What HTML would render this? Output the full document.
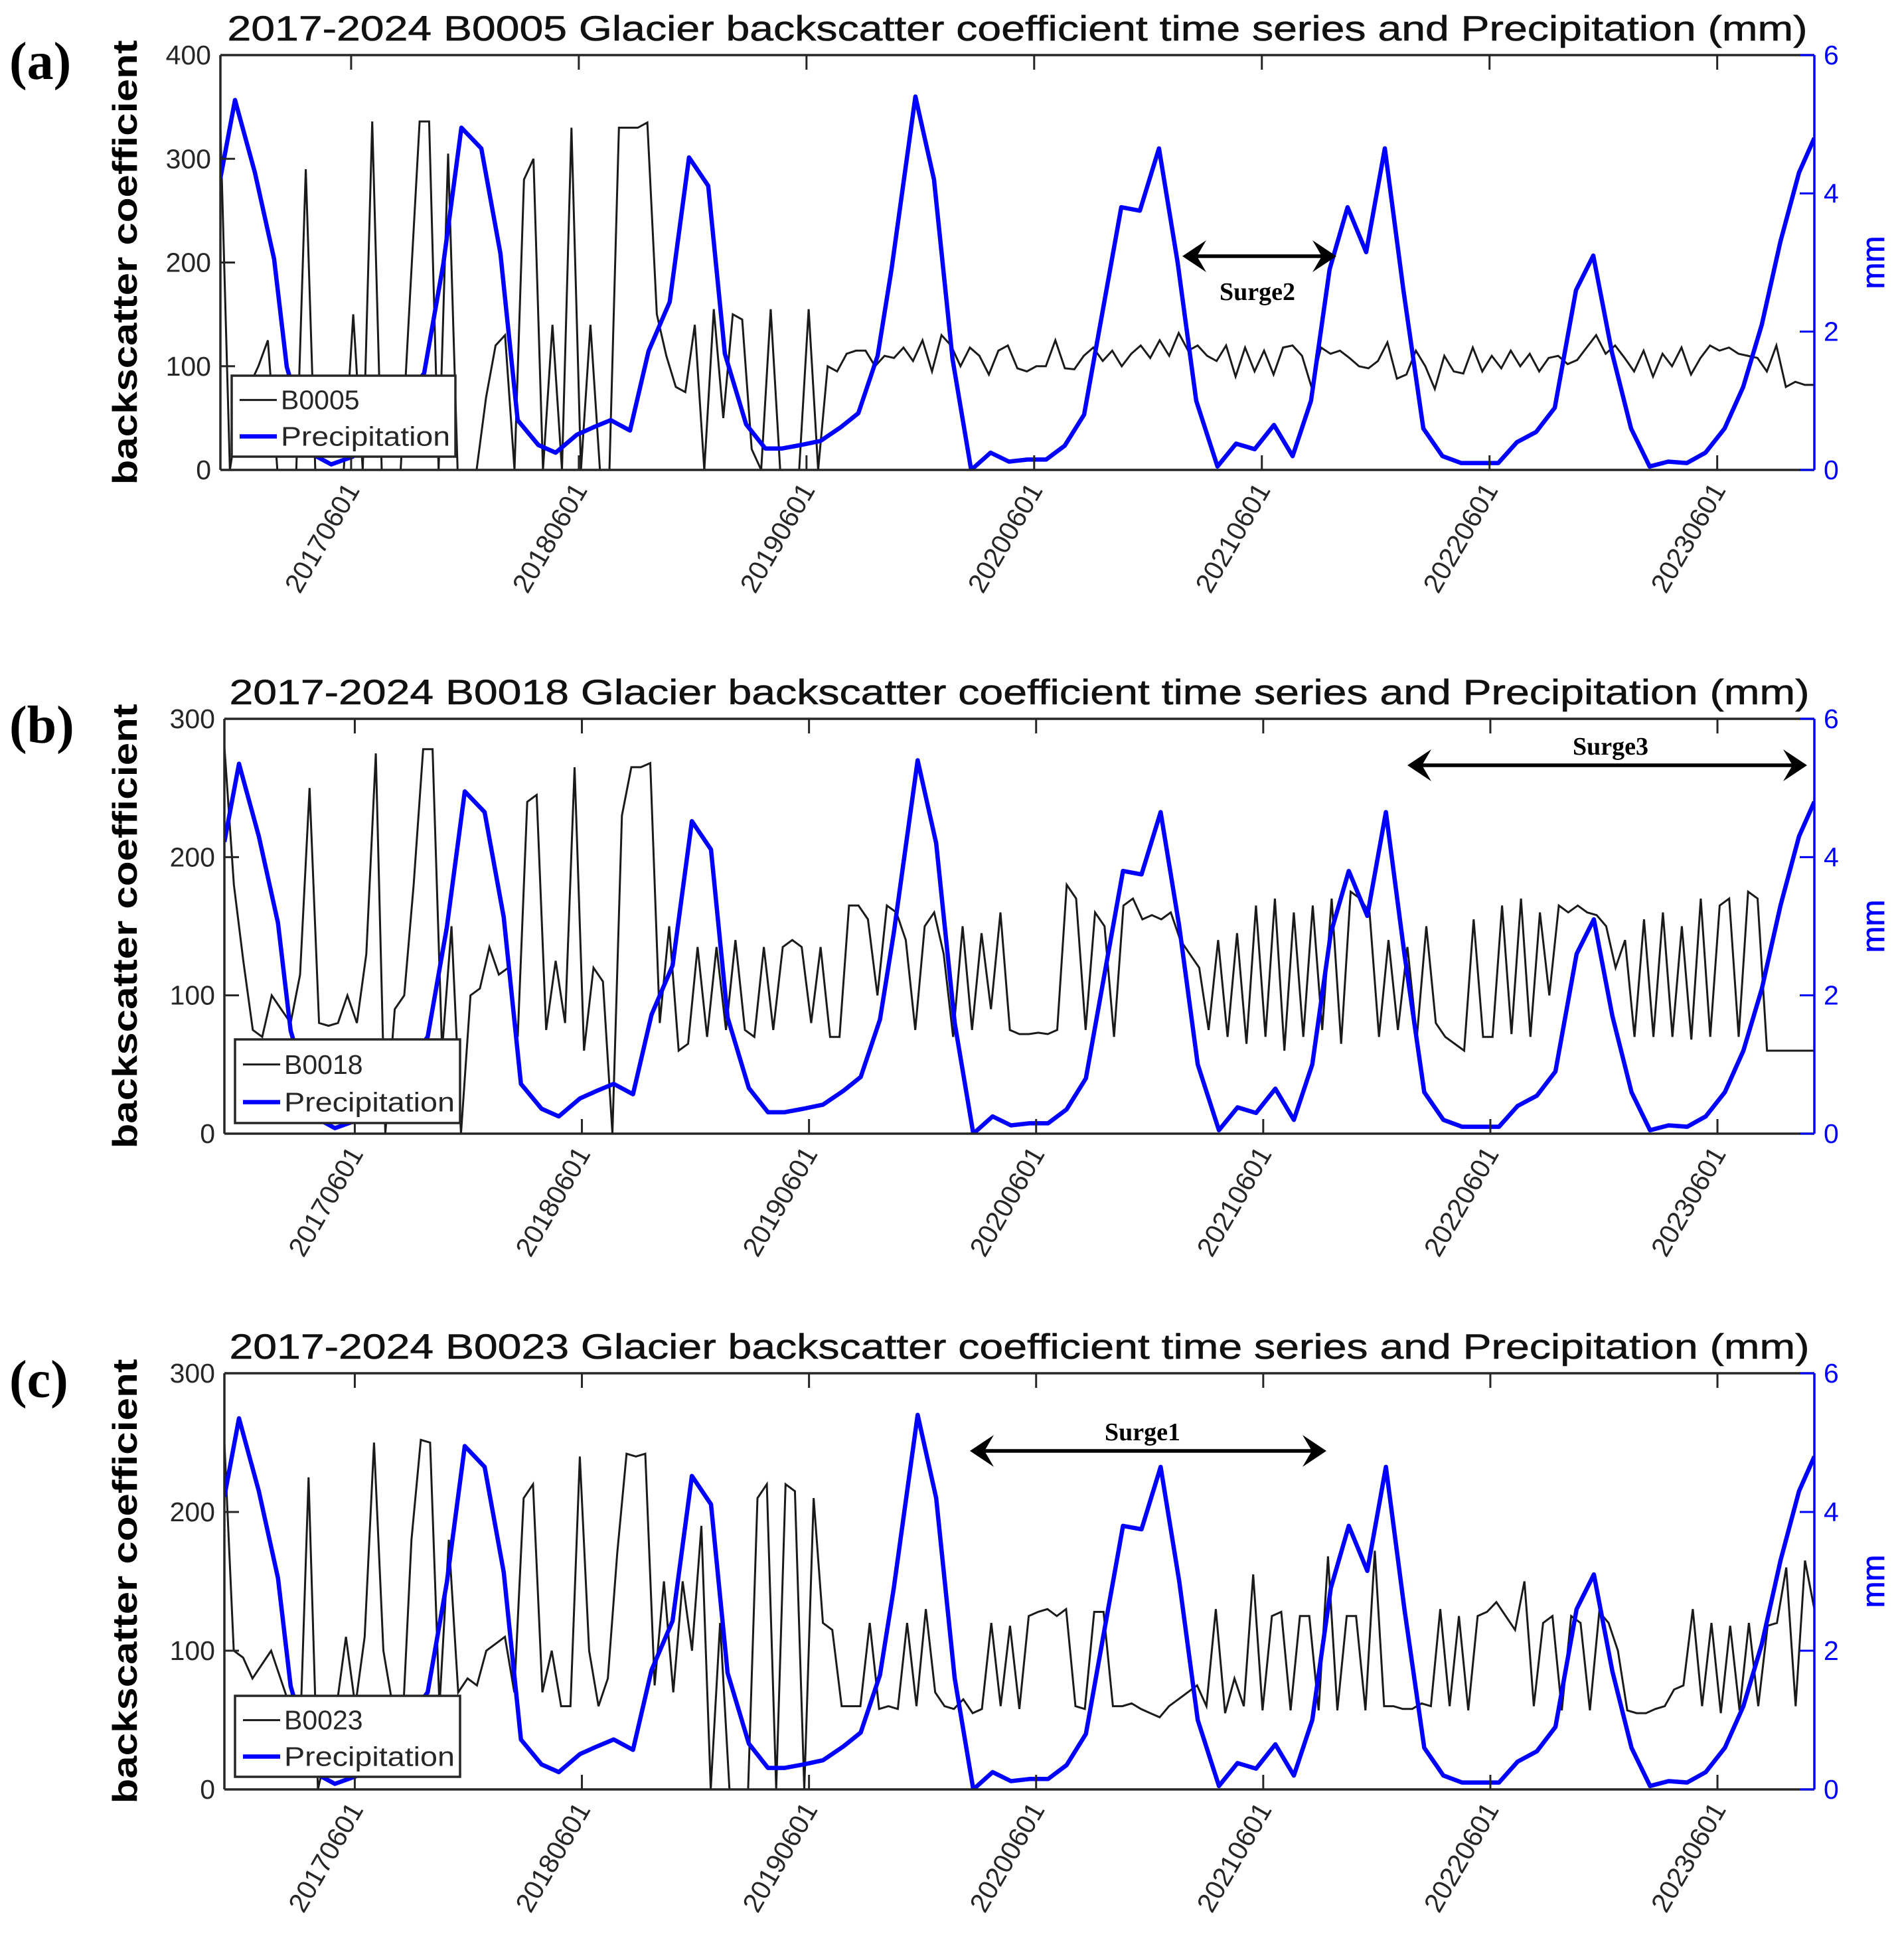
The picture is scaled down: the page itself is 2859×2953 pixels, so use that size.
<!DOCTYPE html>
<html><head><meta charset="utf-8"><style>
html,body{margin:0;padding:0;background:#fff;}
svg{display:block;font-family:"Liberation Sans",sans-serif;}
</style></head><body>
<svg id="chart" width="2859" height="2953" viewBox="0 0 2859 2953" xmlns="http://www.w3.org/2000/svg"></svg>
<script>
// ---- data ----
const xTickLabels = ["20170601","20180601","20190601","20200601","20210601","20220601","20230601"];
const xTickMonths = [0,12,24,36,48,60,72]; // months from 2017-06-01
const xDomain = [-6.89, 77.12];
const precipDates = [-6.89,-6.12,-5.07,-4.06,-3.39,-2.06,-1.05,0.07,1.08,2.48,3.85,4.86,5.81,6.86,7.87,8.78,9.87,10.78,11.9,12.8,13.68,14.7,15.68,16.79,17.81,18.82,19.7,20.82,21.83,22.71,23.7,24.74,25.82,26.73,27.75,28.48,29.74,30.72,31.7,32.68,33.7,34.67,35.65,36.63,37.61,38.63,39.61,40.59,41.57,42.58,43.56,44.54,45.66,46.64,47.62,48.64,49.62,50.59,51.57,52.52,53.5,54.48,55.46,56.51,57.52,58.5,59.48,60.46,61.44,62.46,63.44,64.56,65.47,66.45,67.46,68.44,69.42,70.4,71.38,72.39,73.37,74.35,75.33,76.31,77.12];
const precipValues = [4.22,5.35,4.30,3.05,1.49,0.23,0.08,0.19,0.4,0.9,1.4,2.98,4.95,4.65,3.13,0.72,0.36,0.25,0.51,0.62,0.72,0.57,1.72,2.43,4.52,4.11,1.68,0.66,0.31,0.31,0.36,0.42,0.62,0.82,1.65,2.9,5.4,4.2,1.6,0.0,0.25,0.12,0.15,0.15,0.35,0.8,2.3,3.8,3.75,4.65,3.0,1.0,0.05,0.38,0.3,0.65,0.2,1.0,2.9,3.8,3.15,4.65,2.6,0.6,0.2,0.1,0.1,0.1,0.4,0.55,0.9,2.6,3.1,1.7,0.6,0.05,0.12,0.1,0.25,0.6,1.2,2.1,3.3,4.3,4.8];
const b0005Values = [330,0,60,80,100,125,0,0,0,290,0,0,0,0,150,0,336,0,0,0,170,336,336,0,305,0,0,0,70,120,130,0,280,300,0,140,0,330,0,140,0,0,330,330,330,335,150,110,80,75,140,0,155,50,150,145,20,0,155,0,0,0,155,0,100,95,112,115,115,100,
110,108,118,105,125,95,130,120,100,118,110,92,115,120,98,95,100,100,125,98,97,110,118,105,115,100,112,120,108,125,110,132,115,120,110,105,120,90,118,95,115,92,118,120,110,80,118,112,115,108,100,98,105,123,88,92,115,100,78,110,95,93,118,95,110,98,115,100,112,95,108,110,102,106,118,130,112,120,108,95,115,90,112,100,118,92,108,120,115,118,112,110,108,95,120,80,85,82,82];
const b0018Values = [280,180,125,75,70,100,90,80,115,250,80,78,80,100,80,130,275,0,90,100,180,278,278,60,150,0,100,105,135,115,120,70,240,245,75,125,80,265,60,120,110,0,230,265,265,268,80,150,60,65,135,70,135,75,140,75,70,135,75,135,140,135,80,135,70,70,165,165,155,100,
165,160,140,75,150,160,130,70,150,75,145,90,160,75,72,72,73,72,75,180,170,75,160,150,70,165,170,155,158,155,160,140,130,120,75,140,70,145,65,165,70,170,60,160,70,165,75,170,65,175,170,160,70,140,75,135,70,150,80,70,65,60,155,70,70,165,72,170,70,160,100,165,160,165,160,158,150,120,140,70,155,70,160,70,150,68,170,70,165,170,70,175,170,60,60,60,60,60,60];
const b0023Values = [250,100,95,80,90,100,80,60,20,225,0,30,60,110,60,110,250,100,60,40,180,252,250,60,180,70,80,75,100,105,110,70,210,220,70,100,60,60,240,100,60,80,170,242,240,242,75,150,70,150,100,190,0,120,0,0,0,210,220,0,220,215,0,210,120,115,60,60,60,120,
58,60,58,120,60,130,70,60,58,65,55,58,120,60,118,58,125,128,130,125,130,60,58,128,128,60,60,62,58,55,52,60,65,70,75,60,130,55,80,60,155,57,125,128,57,125,125,57,168,57,125,125,57,172,60,60,58,58,62,60,130,60,125,57,125,128,135,125,115,150,60,120,125,57,125,120,57,128,120,100,57,55,55,58,60,72,75,130,60,120,55,118,57,120,60,118,120,160,60,165,130];
const leftTicksA = [0,100,200,300,400];
const leftTicksBC = [0,100,200,300];
const rightTicks = [0,2,4,6];

// ---- layout ----
const NS = "http://www.w3.org/2000/svg";
const svg = document.getElementById('chart');
const AX = '#262626', BLUE = '#0000ff';
function mk(tag, attrs, parent){
  const e = document.createElementNS(NS, tag);
  for (const k in attrs) e.setAttribute(k, attrs[k]);
  (parent||svg).appendChild(e);
  return e;
}
const panels = [
  {id:'a', label:'(a)', code:'B0005', values:b0005Values, yMax:400, ticks:leftTicksA, L:332, R:2733, T:83, B:708,
   legend:{x:349,y:566,w:337,h:122}, surge:{x1:1781,x2:2013,y:386,tx:1894,ty:452,text:'Surge2'}},
  {id:'b', label:'(b)', code:'B0018', values:b0018Values, yMax:300, ticks:leftTicksBC, L:338, R:2733, T:1083, B:1708,
   legend:{x:354,y:1566,w:339,h:126}, surge:{x1:2120,x2:2722,y:1153,tx:2426,ty:1137,text:'Surge3'}},
  {id:'c', label:'(c)', code:'B0023', values:b0023Values, yMax:300, ticks:leftTicksBC, L:338, R:2733, T:2069, B:2696,
   legend:{x:354,y:2555,w:339,h:122}, surge:{x1:1461,x2:1998,y:2186,tx:1721,ty:2170,text:'Surge1'}}
];

panels.forEach(p => {
  const g = mk('g', {});
  
  
  const xs = m => p.L + (m - xDomain[0]) / (xDomain[1] - xDomain[0]) * (p.R - p.L);
  const yl = v => p.B - v / p.yMax * (p.B - p.T);
  const yr = v => p.B - v / 6 * (p.B - p.T);

  const t = mk('text', {x:(p.L+p.R)/2, y:p.T-22, 'text-anchor':'middle', 'font-size':53, fill:'#111', stroke:'#111', 'stroke-width':0.6, textLength:2380, lengthAdjust:'spacingAndGlyphs'}, g);
  t.textContent = '2017-2024 ' + p.code + ' Glacier backscatter coefficient time series and Precipitation (mm)';
  
  

  const pl = mk('text', {x:14, y:p.T+36, 'font-size':80, 'font-weight':'bold', 'font-family':'"Liberation Serif",serif', fill:'#000'}, g);
  pl.textContent = p.label;
  
  

  const cy = (p.T+p.B)/2;
  const yt = mk('text', {x:0, y:0, transform:`translate(206,${cy}) rotate(-90)`, 'text-anchor':'middle', 'font-size':52, 'font-weight':'bold', fill:'#000', textLength:670, lengthAdjust:'spacingAndGlyphs'}, g);
  yt.textContent = 'backscatter coefficient';
  
  

  const mm = mk('text', {x:0, y:0, transform:`translate(2838,${cy}) rotate(-90)`, 'text-anchor':'middle', 'font-size':48, fill:BLUE, stroke:BLUE, 'stroke-width':0.8}, g);
  mm.textContent = 'mm';
  
  

  const cp = mk('clipPath', {id:'clip'+p.id}, g);
  mk('rect', {x:p.L, y:p.T, width:p.R-p.L, height:p.B-p.T}, cp);

  const n = p.values.length;
  const pts = p.values.map((v,i) => {
    const m = xDomain[0] + i * (xDomain[1]-xDomain[0]) / (n-1);
    return xs(m).toFixed(1) + ',' + yl(v).toFixed(1);
  }).join(' ');
  const bl = mk('polyline', {points:pts, fill:'none', stroke:'#1a1a1a', 'stroke-width':3, 'clip-path':`url(#clip${p.id})`}, g);
  
  

  const pp = precipDates.map((d,i) => xs(d).toFixed(1) + ',' + yr(precipValues[i]).toFixed(1)).join(' ');
  const pr = mk('polyline', {points:pp, fill:'none', stroke:BLUE, 'stroke-width':6.5, 'stroke-linejoin':'round', 'clip-path':`url(#clip${p.id})`}, g);
  
  

  mk('line', {x1:p.L, y1:p.T, x2:p.R, y2:p.T, stroke:AX, 'stroke-width':3.5}, g);
  mk('line', {x1:p.L, y1:p.B, x2:p.R, y2:p.B, stroke:AX, 'stroke-width':3.5}, g);
  mk('line', {x1:p.L, y1:p.T, x2:p.L, y2:p.B, stroke:AX, 'stroke-width':3.5}, g);
  mk('line', {x1:p.R, y1:p.T, x2:p.R, y2:p.B, stroke:BLUE, 'stroke-width':3.5}, g);

  xTickMonths.forEach((m,i) => {
    const x = xs(m);
    mk('line', {x1:x, y1:p.B, x2:x, y2:p.B-22, stroke:AX, 'stroke-width':3}, g);
    mk('line', {x1:x, y1:p.T, x2:x, y2:p.T+22, stroke:AX, 'stroke-width':3}, g);
    const lb = mk('text', {x:0, y:0, transform:`translate(${x+14},${p.B+30}) rotate(-60)`, 'text-anchor':'end', 'font-size':41, fill:AX}, g);
    lb.textContent = xTickLabels[i];
    
    
  });
  p.ticks.forEach(v => {
    const y = yl(v);
    mk('line', {x1:p.L, y1:y, x2:p.L+22, y2:y, stroke:AX, 'stroke-width':3}, g);
    const lb = mk('text', {x:p.L-14, y:y+14, 'text-anchor':'end', 'font-size':41, fill:AX}, g);
    lb.textContent = v;
    
    
  });
  rightTicks.forEach(v => {
    const y = yr(v);
    mk('line', {x1:p.R, y1:y, x2:p.R-22, y2:y, stroke:BLUE, 'stroke-width':3}, g);
    const lb = mk('text', {x:p.R+14, y:y+14, 'text-anchor':'start', 'font-size':41, fill:BLUE}, g);
    lb.textContent = v;
    
    
  });

  const lg = mk('g', {}, g);
  
  
  const Lg = p.legend;
  mk('rect', {x:Lg.x, y:Lg.y, width:Lg.w, height:Lg.h, fill:'#fff', stroke:AX, 'stroke-width':3.5}, lg);
  const r1 = Lg.y + Lg.h*0.30, r2 = Lg.y + Lg.h*0.75;
  mk('line', {x1:Lg.x+12, y1:r1, x2:Lg.x+68, y2:r1, stroke:'#1a1a1a', 'stroke-width':3}, lg);
  mk('line', {x1:Lg.x+12, y1:r2, x2:Lg.x+68, y2:r2, stroke:BLUE, 'stroke-width':6.5}, lg);
  const e1 = mk('text', {x:Lg.x+74, y:r1+14, 'font-size':41, fill:AX}, lg);
  e1.textContent = p.code;
  
  
  const e2 = mk('text', {x:Lg.x+74, y:r2+14, 'font-size':41, fill:AX, textLength:Lg.w-82, lengthAdjust:'spacingAndGlyphs'}, lg);
  e2.textContent = 'Precipitation';
  
  

  const S = p.surge;
  const sg = mk('g', {}, g);
  
  
  mk('line', {x1:S.x1+20, y1:S.y, x2:S.x2-20, y2:S.y, stroke:'#000', 'stroke-width':5.5}, sg);
  mk('path', {d:`M${S.x1},${S.y} L${S.x1+36},${S.y-24} L${S.x1+22},${S.y} L${S.x1+36},${S.y+24} Z`, fill:'#000'}, sg);
  mk('path', {d:`M${S.x2},${S.y} L${S.x2-36},${S.y-24} L${S.x2-22},${S.y} L${S.x2-36},${S.y+24} Z`, fill:'#000'}, sg);
  const st = mk('text', {x:S.tx, y:S.ty, 'text-anchor':'middle', 'font-size':38, 'font-weight':'bold', 'font-family':'"Liberation Serif",serif', fill:'#000'}, sg);
  st.textContent = S.text;
  
  
});
</script>
</body></html>
